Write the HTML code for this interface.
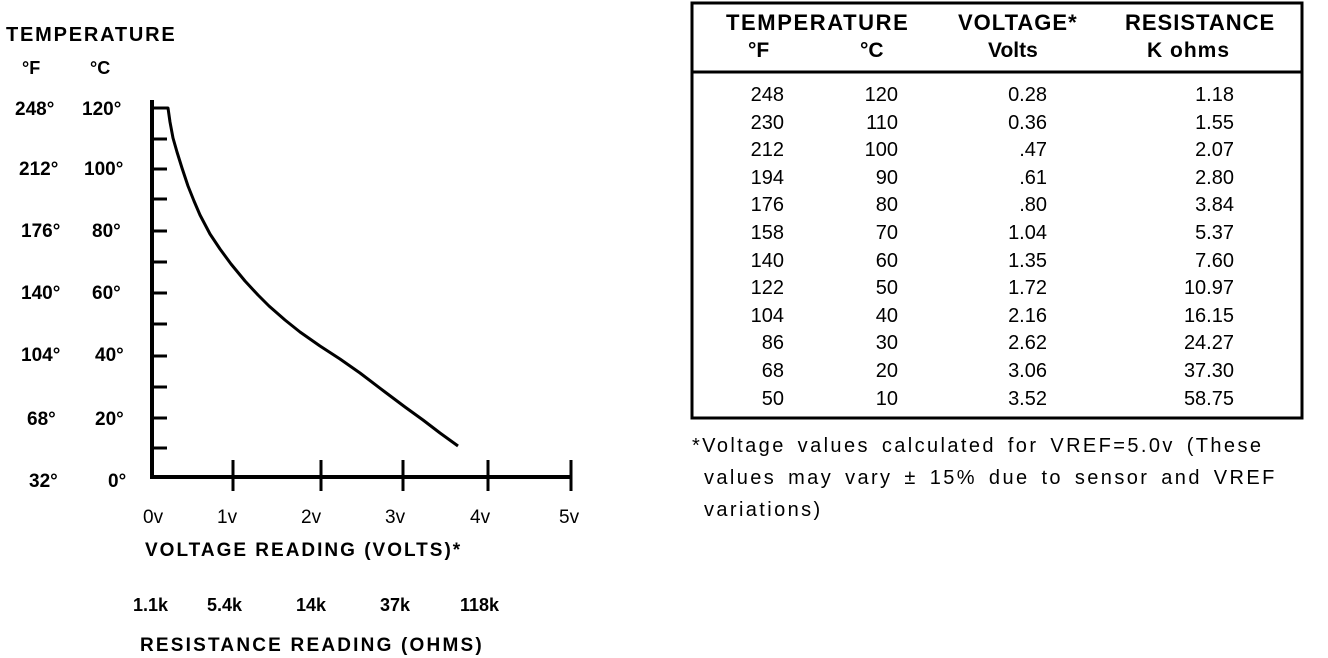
<!DOCTYPE html>
<html><head><style>
body{margin:0;width:1328px;height:658px;background:#fff;overflow:hidden;font-family:"Liberation Sans",Arial,sans-serif;color:#000;}
.t{position:absolute;white-space:nowrap;}
.b{font-weight:bold;}
</style></head><body>
<svg width="1328" height="658" style="position:absolute;left:0;top:0">
<g stroke="#000" fill="none" stroke-width="4">
<line x1="152" y1="100" x2="152" y2="479"/>
<line x1="150" y1="477" x2="572" y2="477"/>
<g stroke-width="3">
<line x1="152" y1="139" x2="167" y2="139"/><line x1="152" y1="169" x2="167" y2="169"/>
<line x1="152" y1="199" x2="167" y2="199"/><line x1="152" y1="231" x2="167" y2="231"/>
<line x1="152" y1="262" x2="167" y2="262"/><line x1="152" y1="293" x2="167" y2="293"/>
<line x1="152" y1="324" x2="167" y2="324"/><line x1="152" y1="356" x2="167" y2="356"/>
<line x1="152" y1="387" x2="167" y2="387"/><line x1="152" y1="418" x2="167" y2="418"/>
<line x1="152" y1="448" x2="167" y2="448"/>
<line x1="233" y1="460" x2="233" y2="491"/><line x1="321" y1="460" x2="321" y2="491"/>
<line x1="403" y1="460" x2="403" y2="491"/><line x1="488" y1="460" x2="488" y2="491"/>
<line x1="571" y1="460" x2="571" y2="491"/>
</g>
<polyline stroke-width="3" stroke-linejoin="round" points="152,108 168,108 170,122 173,138 177,152 182,168 188,186 194,201 200,215 210,234 220,249 231,264 245,281 258,295 269,306 285,320 300,332 320,346 340,359 360,373 385,392 405,407 423,420 440,433 458,446"/>
</g>
<rect x="692" y="3" width="610" height="415" fill="none" stroke="#000" stroke-width="3"/>
<line x1="692" y1="72" x2="1302" y2="72" stroke="#000" stroke-width="3"/>
</svg>
<div class="t b" style="left:6px;top:24px;font-size:20px;letter-spacing:1.8px">TEMPERATURE</div>
<div class="t b" style="left:22px;top:58px;font-size:18px">°F</div>
<div class="t b" style="left:90px;top:58px;font-size:18px">°C</div>
<div style="position:absolute;left:0;top:0;font-size:19px;font-weight:bold">
<div class="t" style="left:15px;top:99px">248°</div><div class="t" style="left:82px;top:99px">120°</div>
<div class="t" style="left:19px;top:159px">212°</div><div class="t" style="left:84px;top:159px">100°</div>
<div class="t" style="left:21px;top:221px">176°</div><div class="t" style="left:92px;top:221px">80°</div>
<div class="t" style="left:21px;top:283px">140°</div><div class="t" style="left:92px;top:283px">60°</div>
<div class="t" style="left:21px;top:345px">104°</div><div class="t" style="left:95px;top:345px">40°</div>
<div class="t" style="left:27px;top:409px">68°</div><div class="t" style="left:95px;top:409px">20°</div>
<div class="t" style="left:29px;top:471px">32°</div><div class="t" style="left:108px;top:471px">0°</div>
</div>
<div style="position:absolute;left:0;top:0;font-size:19px">
<div class="t" style="left:143px;top:507px">0v</div><div class="t" style="left:217px;top:507px">1v</div>
<div class="t" style="left:301px;top:507px">2v</div><div class="t" style="left:385px;top:507px">3v</div>
<div class="t" style="left:470px;top:507px">4v</div><div class="t" style="left:559px;top:507px">5v</div>
</div>
<div class="t b" style="left:145px;top:540px;font-size:19px;letter-spacing:2px">VOLTAGE READING (VOLTS)*</div>
<div class="t b" style="left:133px;top:595px;font-size:18px">1.1k</div>
<div class="t b" style="left:207px;top:595px;font-size:18px">5.4k</div>
<div class="t b" style="left:296px;top:595px;font-size:18px">14k</div>
<div class="t b" style="left:380px;top:595px;font-size:18px">37k</div>
<div class="t b" style="left:460px;top:595px;font-size:18px">118k</div>
<div class="t b" style="left:140px;top:635px;font-size:19px;letter-spacing:2.2px">RESISTANCE READING (OHMS)</div>

<div class="t b" style="left:726px;top:10px;font-size:22px;letter-spacing:1.6px">TEMPERATURE</div>
<div class="t b" style="left:958px;top:10px;font-size:22px;letter-spacing:1px">VOLTAGE*</div>
<div class="t b" style="left:1125px;top:10px;font-size:22px;letter-spacing:1px">RESISTANCE</div>
<div class="t b" style="left:748px;top:39px;font-size:21px">°F</div>
<div class="t b" style="left:860px;top:39px;font-size:21px">°C</div>
<div class="t b" style="left:988px;top:39px;font-size:21px">Volts</div>
<div class="t b" style="left:1147px;top:39px;font-size:21px;letter-spacing:1px">K ohms</div>
<div style="position:absolute;left:0;top:82px;font-size:20px;line-height:27.6px">
<div class="t" style="left:700px;width:84px;text-align:right">248<br>230<br>212<br>194<br>176<br>158<br>140<br>122<br>104<br>86<br>68<br>50</div>
<div class="t" style="left:820px;width:78px;text-align:right">120<br>110<br>100<br>90<br>80<br>70<br>60<br>50<br>40<br>30<br>20<br>10</div>
<div class="t" style="left:960px;width:87px;text-align:right">0.28<br>0.36<br>.47<br>.61<br>.80<br>1.04<br>1.35<br>1.72<br>2.16<br>2.62<br>3.06<br>3.52</div>
<div class="t" style="left:1140px;width:94px;text-align:right">1.18<br>1.55<br>2.07<br>2.80<br>3.84<br>5.37<br>7.60<br>10.97<br>16.15<br>24.27<br>37.30<br>58.75</div>
</div>
<div class="t" style="left:692px;top:430px;font-size:20px;line-height:32px;letter-spacing:2.4px;word-spacing:4px">*Voltage values calculated for VREF=5.0v (These<br>&nbsp;values may vary ± 15% due to sensor and VREF<br>&nbsp;variations)</div>
</body></html>
